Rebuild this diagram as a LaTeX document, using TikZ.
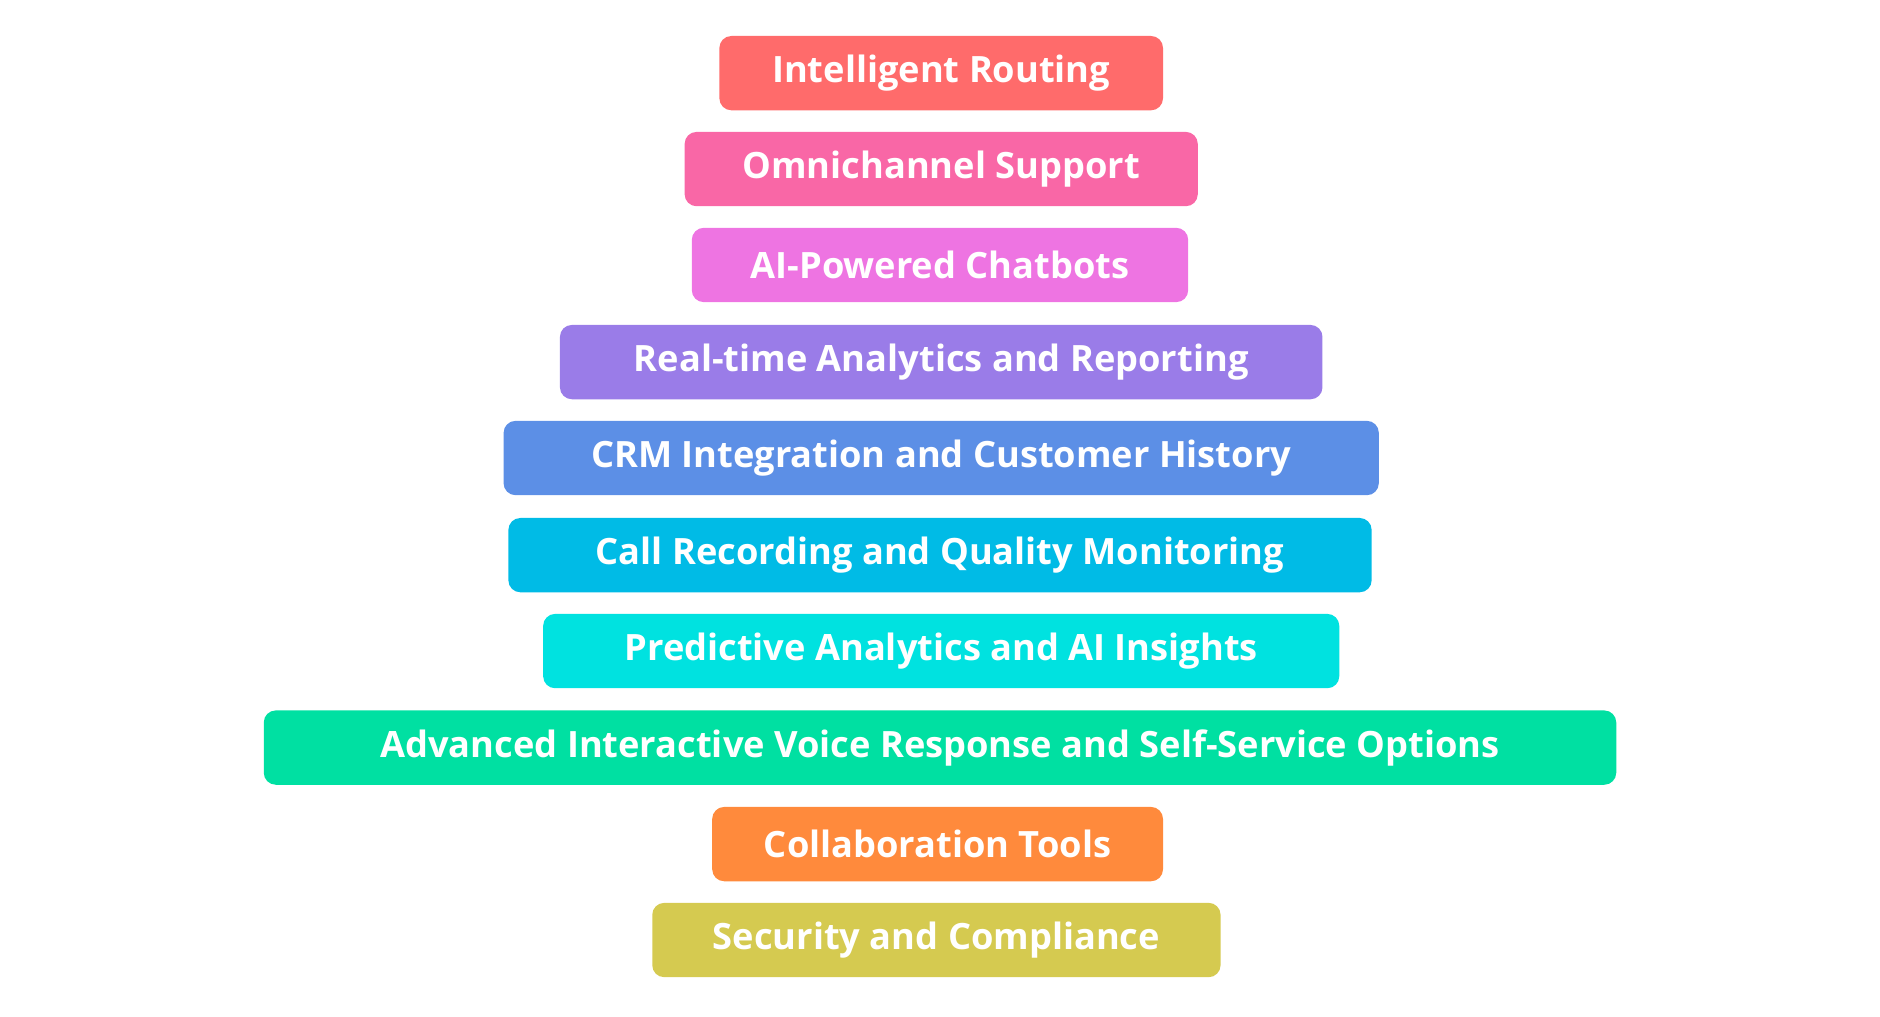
\documentclass[tikz,border=0pt]{standalone}
\usepackage{fontspec}
\setmainfont{Open Sans}
\definecolor{c1}{HTML}{FF6B6B}
\definecolor{c2}{HTML}{F967A6}
\definecolor{c3}{HTML}{EE74E2}
\definecolor{c4}{HTML}{9A7CE8}
\definecolor{c5}{HTML}{5C8FE6}
\definecolor{c6}{HTML}{00BBE6}
\definecolor{c7}{HTML}{00E2E0}
\definecolor{c8}{HTML}{00E0A2}
\definecolor{c9}{HTML}{FF8A3C}
\definecolor{c10}{HTML}{D5CA50}
\tikzset{bar/.style={rounded corners=0.1cm, text=white, font=\fontsize{8.6pt}{10pt}\selectfont\bfseries, inner sep=0pt, minimum height=0.62cm, anchor=center}}
\newcommand{\barbox}[6]{% name, x1, x2, ycenter, color, text
  \node[bar, fill=#5, minimum width=#3cm-#2cm] (#1) at ({(#2+#3)/2}, -#4) {#6};}
\begin{document}
\begin{tikzpicture}
\useasboundingbox (0,0) rectangle (15.68,-8.474);
\barbox{b1}{6.00}{9.70}{0.61}{c1}{Intelligent Routing}
\barbox{b2}{5.71}{9.99}{1.41}{c2}{Omnichannel Support}
\barbox{b3}{5.77}{9.91}{2.21}{c3}{AI-Powered Chatbots}
\barbox{b4}{4.67}{11.03}{3.02}{c4}{Real-time Analytics and Reporting}
\barbox{b5}{4.20}{11.50}{3.82}{c5}{CRM Integration and Customer History}
\barbox{b6}{4.24}{11.44}{4.63}{c6}{Call Recording and Quality Monitoring}
\barbox{b7}{4.53}{11.17}{5.43}{c7}{Predictive Analytics and AI Insights}
\barbox{b8}{2.20}{13.48}{6.235}{c8}{Advanced Interactive Voice Response and Self-Service Options}
\barbox{b9}{5.94}{9.70}{7.04}{c9}{Collaboration Tools}
\barbox{b10}{5.44}{10.18}{7.84}{c10}{Security and Compliance}
\end{tikzpicture}
\end{document}
